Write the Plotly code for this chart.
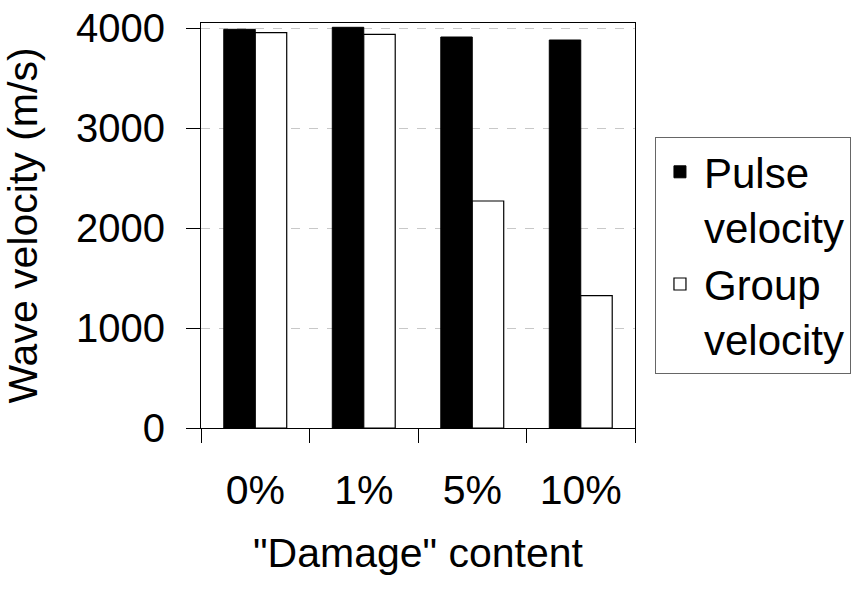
import plotly.graph_objects as go

categories = ["0%", "1%", "5%", "10%"]
pulse_velocity = [3987, 4007, 3910, 3880]
group_velocity = [3953, 3937, 2270, 1323]
y_ticks = [0, 1000, 2000, 3000, 4000]

FONT = "Liberation Sans, Arial, sans-serif"

fig = go.Figure()
fig.add_trace(go.Bar(x=categories, y=pulse_velocity, name="Pulse<br>velocity",
                     marker=dict(color="black", line=dict(color="black", width=1))))
fig.add_trace(go.Bar(x=categories, y=group_velocity, name="Group<br>velocity",
                     marker=dict(color="white", line=dict(color="black", width=1.2))))

# body margin is removed in the page, so the plot area lands at x 201-635, y 23-428
fig.update_layout(
    width=854, height=592,
    paper_bgcolor="white", plot_bgcolor="white",
    margin=dict(l=201, r=219, t=23, b=164, autoexpand=False),
    barmode="group", bargap=0.42, bargroupgap=0,
    font=dict(family=FONT, size=41, color="black"),
    legend=dict(x=1.046, y=0.7185, xanchor="left", yanchor="top",
                bordercolor="#666", borderwidth=1, valign="top",
                font=dict(family=FONT, size=42, color="black"),
                itemwidth=38, tracegroupgap=0),
    xaxis=dict(showline=True, linecolor="black", linewidth=1, mirror=True,
               ticks="outside", ticklen=14, tickcolor="black", tickson="boundaries",
               ticklabelstandoff=26, automargin=False,
               title=dict(text="\"Damage\" content", standoff=26,
                          font=dict(size=41))),
    yaxis=dict(range=[0, 4050], tickvals=y_ticks, showline=True, linecolor="black",
               linewidth=1, mirror=True, ticks="outside", ticklen=14, tickcolor="black",
               ticklabelstandoff=13, ticklabeloverflow="allow", automargin=False,
               tickfont=dict(size=40),
               showgrid=True, gridcolor="#c8c8c8", griddash="dash", gridwidth=1,
               zeroline=False,
               title=dict(text="Wave velocity (m/s)", standoff=25, font=dict(size=41))),
)

fig.write_html("out.html", config={"displayModeBar": False},
               post_script="document.body.style.margin='0';")
